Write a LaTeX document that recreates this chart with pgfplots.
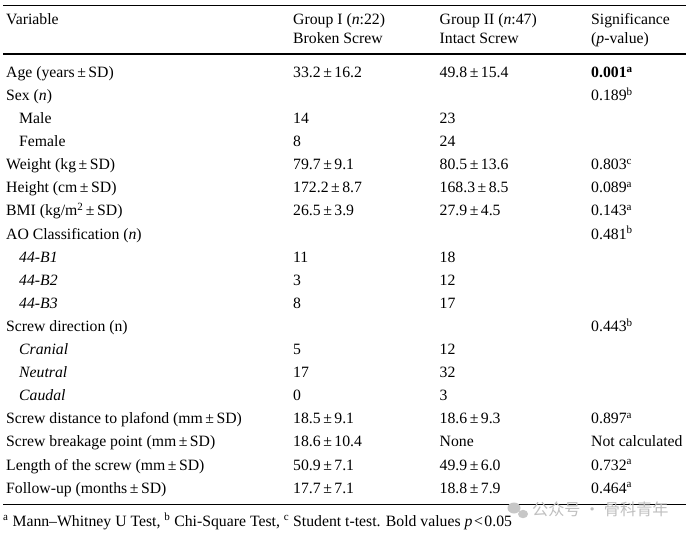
\documentclass[border=0pt]{standalone}
\usepackage{pgfplots}
\pgfplotsset{compat=1.18}
\usepackage{fontspec}
\setmainfont{Liberation Serif}
\newfontfamily\cjk{Noto Sans CJK SC}
\newcommand\pmm{\kern0.16em±\kern0.16em}
\begin{document}
\begin{tikzpicture}
\begin{axis}[width=690bp,height=538bp,scale only axis,
  xmin=0,xmax=690,ymin=0,ymax=538,y dir=reverse,hide axis,clip=false]
\path (axis cs:0,0) rectangle (axis cs:690,538);
\tikzset{T/.style={anchor=base west,inner sep=0pt,font=\fontsize{15.8}{18}\selectfont}}
\newcommand\row[5]{%
  \node[T] at (axis cs:6,#1) {#2};
  \node[T] at (axis cs:293,#1) {#3};
  \node[T] at (axis cs:439.5,#1) {#4};
  \node[T] at (axis cs:591,#1) {#5};}
\newcommand\sub[5]{%
  \node[T] at (axis cs:19,#1) {#2};
  \node[T] at (axis cs:293,#1) {#3};
  \node[T] at (axis cs:439.5,#1) {#4};
  \node[T] at (axis cs:591,#1) {#5};}
% rules
\draw[line width=0.8bp] (axis cs:3,5) -- (axis cs:686,5);
\draw[line width=1.2bp] (axis cs:3,54) -- (axis cs:686,54);
\draw[line width=0.8bp] (axis cs:3,504) -- (axis cs:686,504);
% header
\row{25}{Variable}{Group I (\textit{n}:22)}{Group II (\textit{n}:47)}{Significance}
\row{43.3}{}{Broken Screw}{Intact Screw}{(\textit{p}-value)}
% body
\row{77.3}{Age (years\pmm SD)}{33.2\pmm 16.2}{49.8\pmm 15.4}{\textbf{0.001\textsuperscript{a}}}
\row{100.4}{Sex (\textit{n})}{}{}{0.189\textsuperscript{b}}
\sub{123.5}{Male}{14}{23}{}
\sub{146.6}{Female}{8}{24}{}
\row{169.7}{Weight (kg\pmm SD)}{79.7\pmm 9.1}{80.5\pmm 13.6}{0.803\textsuperscript{c}}
\row{192.8}{Height (cm\pmm SD)}{172.2\pmm 8.7}{168.3\pmm 8.5}{0.089\textsuperscript{a}}
\row{215.9}{BMI (kg/m\textsuperscript{2}\pmm SD)}{26.5\pmm 3.9}{27.9\pmm 4.5}{0.143\textsuperscript{a}}
\row{239.0}{AO Classification (\textit{n})}{}{}{0.481\textsuperscript{b}}
\sub{262.1}{\textit{44-B1}}{11}{18}{}
\sub{285.2}{\textit{44-B2}}{3}{12}{}
\sub{308.3}{\textit{44-B3}}{8}{17}{}
\row{331.4}{Screw direction (n)}{}{}{0.443\textsuperscript{b}}
\sub{354.5}{\textit{Cranial}}{5}{12}{}
\sub{377.6}{\textit{Neutral}}{17}{32}{}
\sub{400.7}{\textit{Caudal}}{0}{3}{}
\row{423.8}{Screw distance to plafond (mm\pmm SD)}{18.5\pmm 9.1}{18.6\pmm 9.3}{0.897\textsuperscript{a}}
\row{446.9}{Screw breakage point (mm\pmm SD)}{18.6\pmm 10.4}{None}{Not calculated}
\row{470.0}{Length of the screw (mm\pmm SD)}{50.9\pmm 7.1}{49.9\pmm 6.0}{0.732\textsuperscript{a}}
\row{493.1}{Follow-up (months\pmm SD)}{17.7\pmm 7.1}{18.8\pmm 7.9}{0.464\textsuperscript{a}}
% watermark
\fill[black!22] (axis cs:514,508) ellipse [x radius=6.5bp,y radius=5.5bp];
\fill[black!22] (axis cs:523,514) ellipse [x radius=5bp,y radius=4.2bp];
\node[anchor=base west,inner sep=0pt,text=black!25,font=\cjk\fontsize{16.2}{18}\selectfont] at (axis cs:532,515) {公众号 · 骨科青年};
% footnote
\node[anchor=base west,inner sep=0pt,font=\fontsize{15.8}{18}\selectfont] at (axis cs:3,526)
  {\textsuperscript{a} Mann–Whitney U Test, \textsuperscript{b} Chi-Square Test, \textsuperscript{c} Student t-test. Bold values \textit{p}\kern0.1em<\kern0.1em0.05};
\end{axis}
\end{tikzpicture}
\end{document}
